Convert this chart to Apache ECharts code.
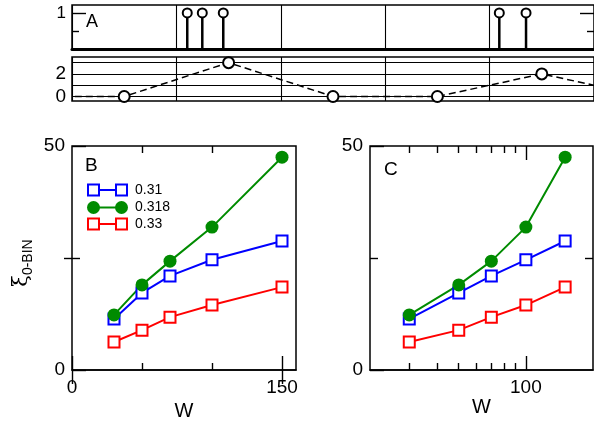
<!DOCTYPE html>
<html><head><meta charset="utf-8">
<script src="https://cdn.jsdelivr.net/npm/echarts@6/dist/echarts.min.js"></script>
<style>html,body{margin:0;padding:0;background:#fff}#c{width:594px;height:426px}</style>
</head><body><div id="c"></div>
<script>
// ---- data ----
const stemX = [1.104, 1.248, 1.449, 4.093, 4.349];
const stemY = [1, 1, 1, 1, 1];
const segCenters = [-0.5, 0.5, 1.5, 2.5, 3.5, 4.5, 5.5];
const segCounts = [0, 0, 3, 0, 0, 2, 0];
const W = [30, 50, 70, 100, 150];
const xi031 = [11.4, 17.2, 21.0, 24.6, 28.8];
const xi0318 = [12.3, 19.0, 24.3, 31.9, 47.5];
const xi033 = [6.25, 8.9, 11.8, 14.5, 18.5];
const seriesNames = ['0.31', '0.318', '0.33'];
const aYMajor = [1], aYMinor = [0.5];
const mYLabels = [0, 2], mGridLines = [0, 1, 2, 3];
const bXMajor = [0, 150], bXMinor = [50, 100];
const yMajor = [0, 50], yMinor = [25];
const cXMajor = [100], cXMinor = [30, 40, 50, 60, 70, 80, 90];

const FONT = 'Liberation Sans';
const BLUE = '#0000ff', GREEN = '#008b00', RED = '#ff0000';
const lg = Math.log10;

function tickAxis(gridIndex, position, min, max, values, len, extra) {
  return Object.assign({
    type: 'value', gridIndex, position, min, max,
    axisLine: { show: false },
    axisTick: { show: true, inside: true, length: len, customValues: values, lineStyle: { color: '#000', width: 1.4 } },
    axisLabel: { show: false },
    splitLine: { show: false }
  }, extra || {});
}
const lbl = (vals, size, margin, fmt) => ({ show: true, customValues: vals, color: '#000', fontFamily: FONT, fontSize: size, margin, formatter: fmt });

const gridBase = { show: true, borderColor: '#000', borderWidth: 1.5, backgroundColor: 'transparent', outerBoundsMode: 'none', containLabel: false };
const grids = [
  Object.assign({ left: 72, top: 5, right: 0, height: 44 }, gridBase),
  Object.assign({ left: 72, top: 57, right: 0, height: 44 }, gridBase),
  Object.assign({ left: 72, top: 146, width: 224, height: 224 }, gridBase),
  Object.assign({ left: 370, top: 146, width: 223, height: 224 }, gridBase)
];
const nameStyle = { color: '#000', fontFamily: FONT, fontSize: 20 };

const xAxes = [
  // 0: panel A
  { type: 'value', gridIndex: 0, position: 'bottom', min: 0, max: 5, interval: 1,
    axisLine: { show: true, lineStyle: { color: '#000', width: 3 } }, axisTick: { show: false }, axisLabel: { show: false },
    splitLine: { show: true, lineStyle: { color: '#000', width: 1.1 } } },
  // 1: middle panel
  { type: 'value', gridIndex: 1, position: 'bottom', min: 0, max: 5, interval: 1,
    axisLine: { show: false }, axisTick: { show: false }, axisLabel: { show: false },
    splitLine: { show: true, lineStyle: { color: '#000', width: 1.1 } } },
  // 2: panel B main
  { type: 'value', gridIndex: 2, position: 'bottom', min: 0, max: 160,
    axisLine: { show: true, lineStyle: { color: '#000', width: 1.5 } },
    axisTick: { show: true, inside: true, length: 14, customValues: bXMajor, lineStyle: { color: '#000', width: 1.4 } },
    axisLabel: lbl(bXMajor, 19, 8), splitLine: { show: false },
    name: 'W', nameLocation: 'middle', nameGap: 27, nameTextStyle: nameStyle },
  tickAxis(2, 'bottom', 0, 160, bXMinor, 7),
  tickAxis(2, 'top', 0, 160, bXMajor, 14),
  tickAxis(2, 'top', 0, 160, bXMinor, 7),
  // 6: panel C data axis (log)
  { type: 'log', logBase: 10, gridIndex: 3, position: 'bottom', min: 20, max: 200,
    axisLine: { show: true, lineStyle: { color: '#000', width: 1.5 } }, axisTick: { show: false }, axisLabel: { show: false }, splitLine: { show: false },
    name: 'W', nameLocation: 'middle', nameGap: 27, nameTextStyle: nameStyle },
  tickAxis(3, 'bottom', lg(20), lg(200), cXMajor.map(lg), 14,
    { axisLabel: lbl(cXMajor.map(lg), 19, 8, v => String(Math.round(Math.pow(10, v)))) }),
  tickAxis(3, 'bottom', lg(20), lg(200), cXMinor.map(lg), 7),
  tickAxis(3, 'top', lg(20), lg(200), cXMajor.map(lg), 14),
  tickAxis(3, 'top', lg(20), lg(200), cXMinor.map(lg), 7)
];

const yAxes = [
  // 0: panel A main
  tickAxis(0, 'left', 0, 1.22, aYMajor, 14, { axisLabel: lbl(aYMajor, 17, 6) }),
  tickAxis(0, 'left', 0, 1.22, aYMinor, 7),
  tickAxis(0, 'right', 0, 1.22, aYMajor, 14),
  tickAxis(0, 'right', 0, 1.22, aYMinor, 7),
  // 4: middle panel
  { type: 'value', gridIndex: 1, position: 'left', min: -0.4, max: 3.5,
    axisLine: { show: false }, axisTick: { show: false, customValues: mYLabels },
    axisLabel: lbl(mYLabels, 19, 6), splitLine: { show: false } },
  // 5: panel B
  tickAxis(2, 'left', 0, 50, yMajor, 14, { axisLabel: lbl(yMajor, 19, 7) }),
  tickAxis(2, 'left', 0, 50, yMinor, 8),
  tickAxis(2, 'right', 0, 50, yMinor, 8),
  // 8: panel C
  tickAxis(3, 'left', 0, 50, yMajor, 14, { axisLabel: lbl(yMajor, 19, 7) }),
  tickAxis(3, 'left', 0, 50, yMinor, 8),
  tickAxis(3, 'right', 0, 50, yMinor, 8)
];

function xiSeries(name, vals, color, shape, xIdx, yIdx) {
  const hollow = shape === 'rect';
  return {
    type: 'line', name, xAxisIndex: xIdx, yAxisIndex: yIdx,
    data: W.map((w, i) => [w, vals[i]]),
    symbol: shape, symbolSize: hollow ? 11 : 13, showAllSymbol: true,
    lineStyle: { color, width: 2 },
    itemStyle: hollow ? { color: '#fff', borderColor: color, borderWidth: 2 } : { color, borderColor: color, borderWidth: 0 }
  };
}

const series = [
  { type: 'custom', xAxisIndex: 0, yAxisIndex: 0, data: stemX.map((x, i) => [x, stemY[i]]), z: 5,
    renderItem: (params, api) => {
      const x = api.value(0), y = api.value(1);
      const p0 = api.coord([x, 0]), p1 = api.coord([x, y]);
      return { type: 'group', children: [
        { type: 'line', shape: { x1: p0[0], y1: p0[1], x2: p1[0], y2: p1[1] }, style: { stroke: '#000', lineWidth: 2.5 } },
        { type: 'circle', shape: { cx: p1[0], cy: p1[1], r: 4.5 }, style: { fill: '#fff', stroke: '#000', lineWidth: 2 } }
      ] };
    } },
  { type: 'line', xAxisIndex: 1, yAxisIndex: 4, clip: true, z: 5,
    data: segCenters.map((x, i) => ({ value: [x, segCounts[i]], symbol: (x < 0 || x > 5) ? 'none' : 'circle' })),
    symbol: 'circle', symbolSize: 11, showAllSymbol: true,
    lineStyle: { color: '#000', width: 1.5, type: [7, 4] },
    itemStyle: { color: '#fff', borderColor: '#000', borderWidth: 2 },
    markLine: { silent: true, symbol: ['none', 'none'], label: { show: false }, z: 1,
      lineStyle: { color: '#000', width: 1.2, type: 'solid' },
      data: mGridLines.map(v => ({ yAxis: v })) } },
  xiSeries(seriesNames[0], xi031, BLUE, 'rect', 2, 5),
  xiSeries(seriesNames[1], xi0318, GREEN, 'circle', 2, 5),
  xiSeries(seriesNames[2], xi033, RED, 'rect', 2, 5),
  xiSeries(seriesNames[0], xi031, BLUE, 'rect', 6, 8),
  xiSeries(seriesNames[1], xi0318, GREEN, 'circle', 6, 8),
  xiSeries(seriesNames[2], xi033, RED, 'rect', 6, 8)
];

// legend drawn as graphic (two markers per entry)
const legendColors = [BLUE, GREEN, RED];
const legendShapes = ['rect', 'circle', 'rect'];
const legendY = [190, 207.5, 224];
const legendEls = [];
seriesNames.forEach((n, i) => {
  const y = legendY[i], c = legendColors[i];
  legendEls.push({ type: 'line', shape: { x1: 93, y1: y, x2: 122, y2: y }, style: { stroke: c, lineWidth: 2 } });
  [93.5, 121.5].forEach(cx => {
    if (legendShapes[i] === 'rect') legendEls.push({ type: 'rect', shape: { x: cx - 5.5, y: y - 5.5, width: 11, height: 11 }, style: { fill: '#fff', stroke: c, lineWidth: 2 } });
    else legendEls.push({ type: 'circle', shape: { cx, cy: y, r: 6.5 }, style: { fill: c } });
  });
  legendEls.push({ type: 'text', x: 135, y, style: { text: n, fill: '#000', font: '14px "' + FONT + '"', verticalAlign: 'middle', align: 'left' } });
});

const graphic = [
  { type: 'text', x: 86, y: 22, style: { text: 'A', fill: '#000', font: '18px "' + FONT + '"', verticalAlign: 'middle' } },
  { type: 'text', x: 85, y: 166, style: { text: 'B', fill: '#000', font: '19px "' + FONT + '"', verticalAlign: 'middle' } },
  { type: 'text', x: 384, y: 170, style: { text: 'C', fill: '#000', font: '19px "' + FONT + '"', verticalAlign: 'middle' } },
  { type: 'text', x: 22, y: 263, rotation: Math.PI / 2,
    style: { text: '{a|ξ}{b|0-BIN}', align: 'center', verticalAlign: 'middle',
      rich: { a: { fontSize: 21, fontFamily: 'DejaVu Serif', fill: '#000', lineHeight: 26, verticalAlign: 'middle' },
              b: { fontSize: 14, fontFamily: FONT, fill: '#000', lineHeight: 26, verticalAlign: 'bottom' } } } }
].concat(legendEls);

const chart = echarts.init(document.getElementById('c'), null, { renderer: 'canvas' });
chart.setOption({ animation: false, backgroundColor: '#fff', grid: grids, xAxis: xAxes, yAxis: yAxes, series, graphic });
</script></body></html>
